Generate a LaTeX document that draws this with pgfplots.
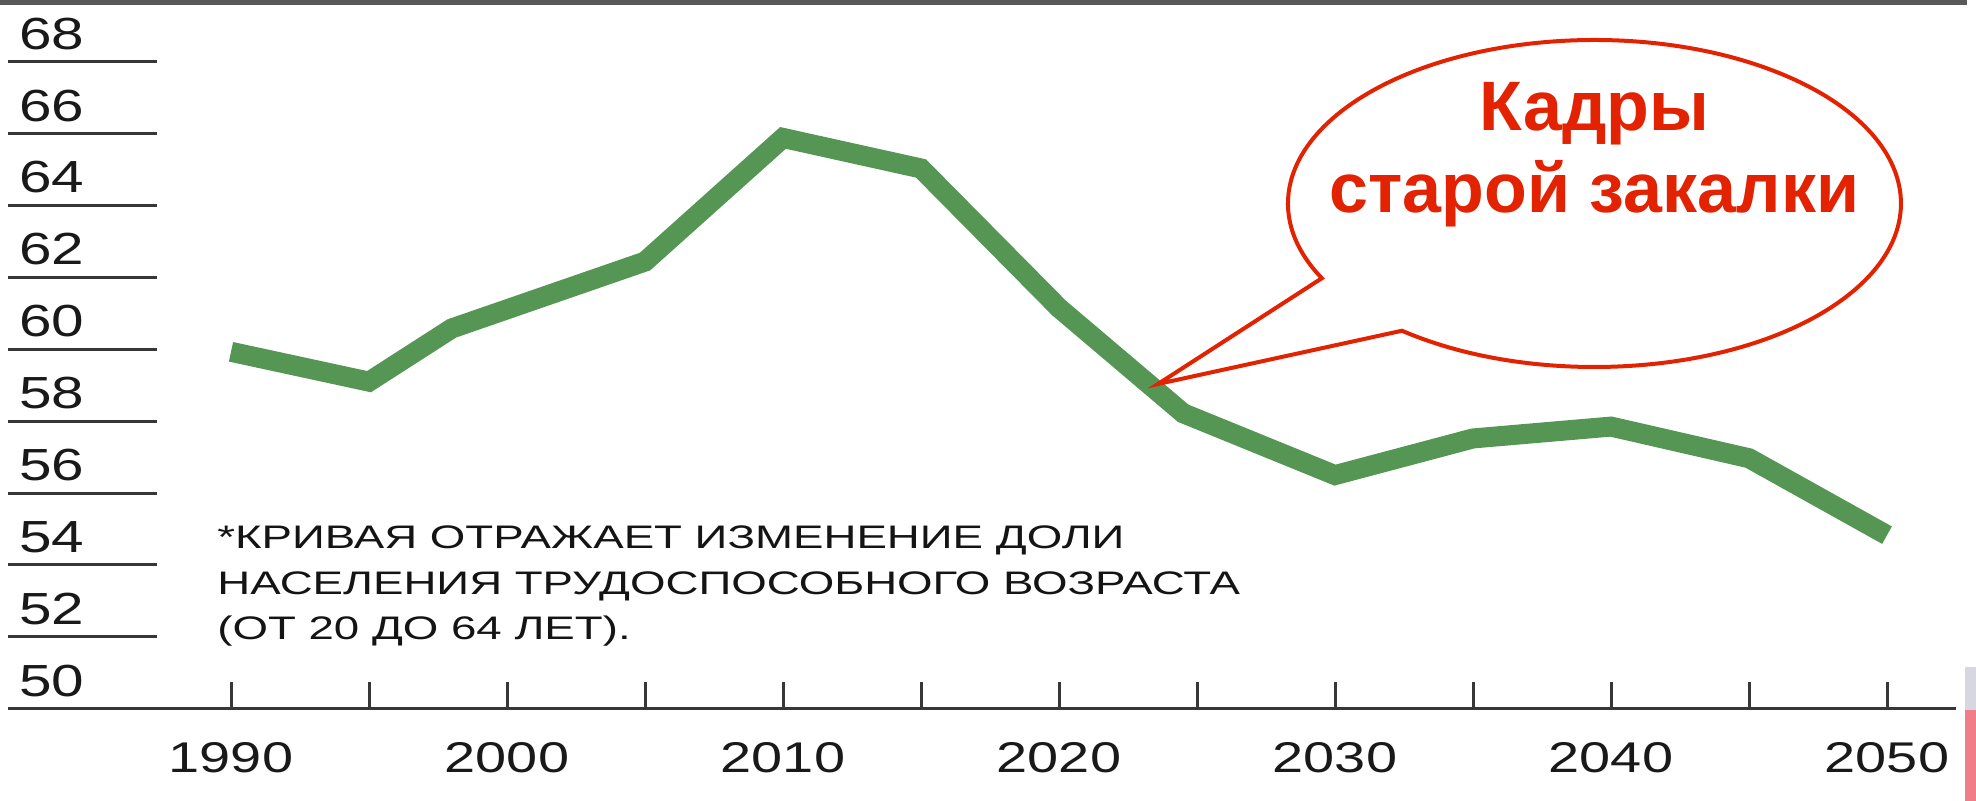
\documentclass[border=0pt]{standalone}
\usepackage{fontspec}
\usepackage{pgfplots}
\pgfplotsset{compat=1.18}
\setmainfont{Liberation Sans}
\newfontfamily\chartfont{Liberation Sans}[FakeStretch=1.30]
\newfontfamily\notefont{Liberation Sans}[FakeStretch=1.40]
\newfontfamily\callfont{Liberation Sans}
\definecolor{lgreen}{RGB}{85,150,85}
\definecolor{cred}{RGB}{226,34,0}
\definecolor{axgray}{RGB}{55,55,55}
\definecolor{slidepink}{RGB}{240,125,135}
\definecolor{slidegrey}{RGB}{215,215,225}
\begin{document}
\begin{tikzpicture}
\begin{axis}[
  at={(4pt,46.1pt)}, anchor=south west,
  scale only axis, width=974pt, height=353.15pt,
  xmin=1981.920, xmax=2052.500, ymin=50, ymax=69.647,
  axis x line*=bottom, hide y axis,
  axis line style={line width=1.5pt, axgray},
  xtick={1990,1995,...,2050},
  xticklabels={1990,,2000,,2010,,2020,,2030,,2040,,2050},
  scaled x ticks=false,
  tick align=inside, major tick length=13.5pt,
  xtick style={line width=1.5pt, axgray},
  /pgf/number format/assume math mode=true,
  x tick label style={font=\chartfont\fontsize{21.5}{25}\selectfont, anchor=north, inner sep=0pt, yshift=-16.6pt, text=black!90},
  clip=false,
]
\addplot[lgreen, line width=10pt, line join=miter] coordinates {
  (1990,59.93) (1995,59.10) (1998,60.58) (2005,62.44) (2010,65.88)
  (2015,65.03) (2020,61.15) (2024.5,58.22) (2030,56.50) (2035,57.52)
  (2040,57.85) (2045,56.97) (2050,54.83)};
% top frame line
\draw[black!65, line width=2.5pt] (axis cs:1981.630,69.646) -- (axis cs:2052.898,69.646);
% slide decoration at right edge
\fill[slidegrey] (axis cs:2052.826,51.163) rectangle (axis cs:2053.225,49.967);
\fill[slidepink] (axis cs:2052.826,49.967) rectangle (axis cs:2053.225,47.435);
% callout
\draw[cred, line width=2pt, fill=white, line join=miter]
  (axis cs:2039.40,64.056) ++(231.1:153.25pt and 81.75pt)
  arc[start angle=231.1, end angle=567.2, x radius=153.25pt, y radius=81.75pt]
  -- (axis cs:2023.587,59.035) -- cycle;
\node[anchor=base, inner sep=0pt, text=cred, font=\callfont\bfseries\fontsize{35}{41}\selectfont] at (axis cs:2039.40,66.100) {Кадры};
\node[anchor=base, inner sep=0pt, text=cred, font=\callfont\bfseries\fontsize{35}{41}\selectfont] at (axis cs:2039.40,63.819) {старой закалки};
% note
\node[anchor=base west, inner sep=0pt, text=black!92, font=\notefont\fontsize{16.3}{22.5}\selectfont] at (axis cs:1989.49,54.445) {*КРИВАЯ ОТРАЖАЕТ ИЗМЕНЕНИЕ ДОЛИ};
\node[anchor=base west, inner sep=0pt, text=black!92, font=\notefont\fontsize{16.3}{22.5}\selectfont] at (axis cs:1989.49,53.193) {НАСЕЛЕНИЯ ТРУДОСПОСОБНОГО ВОЗРАСТА};
\node[anchor=base west, inner sep=0pt, text=black!92, font=\notefont\fontsize{16.3}{22.5}\selectfont] at (axis cs:1989.49,51.941) {(ОТ 20 ДО 64 ЛЕТ).};
\end{axis}
\begin{axis}[
  at={(4pt,46.1pt)}, anchor=south west,
  scale only axis, width=974pt, height=353.15pt,
  xmin=1981.920, xmax=2052.500, ymin=50, ymax=69.647,
  hide x axis, axis y line*=left, y axis line style={draw=none},
  ytick={50,52,...,68},
  yticklabels={50,52,54,56,58,60,62,64,66,68},
  tick align=inside, major tick length=74.35pt,
  ytick style={line width=1.5pt, axgray},
  /pgf/number format/assume math mode=true,
  y tick label style={font=\chartfont\fontsize{22.5}{26}\selectfont, anchor=south west, inner sep=0pt, xshift=5.5pt, yshift=5.85pt, text=black!90},
]
\end{axis}
\pgfresetboundingbox
\path[use as bounding box] (0,0) rectangle (988pt,400.5pt);
\end{tikzpicture}
\end{document}
